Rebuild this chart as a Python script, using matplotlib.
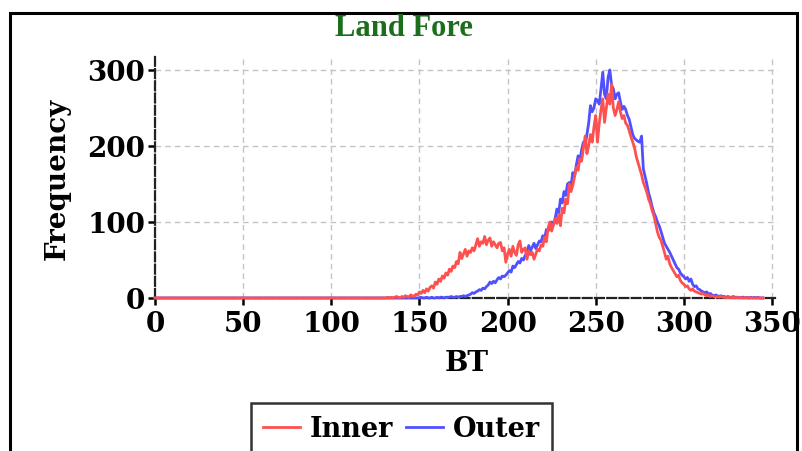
import matplotlib
matplotlib.use("Agg")
import matplotlib.pyplot as plt
from matplotlib.patches import Rectangle

# ---- data ----
bt_start = 130
inner_vals = [
    0, 0, 1, 0, 1, 0, 1, 2, 1, 0,
    2, 1, 3, 2, 1, 4, 3, 2, 5, 4,
    8, 6, 10, 7, 12, 9, 14, 16, 13, 21,
    18, 25, 22, 29, 26, 33, 30, 38, 35, 42,
    40, 48, 45, 60, 52, 58, 64, 55, 62, 60,
    66, 62, 70, 78, 68, 74, 72, 81, 70, 76,
    79, 68, 74, 70, 66, 72, 73, 62, 66, 47,
    58, 64, 55, 68, 60, 56, 70, 75, 60, 64,
    66, 51, 62, 57, 60, 51, 58, 64, 62, 70,
    68, 80, 74, 92, 100, 88, 96, 104, 98, 110,
    95, 118, 112, 130, 124, 150, 140, 148, 160, 172,
    168, 183, 180, 196, 213, 190, 200, 215, 205, 225,
    240, 205, 230, 248, 262, 231, 250, 268, 255, 281,
    250, 240, 248, 258, 245, 236, 240, 230, 227, 220,
    212, 205, 198, 186, 178, 170, 162, 152, 146, 139,
    130, 124, 115, 108, 98, 87, 80, 76, 68, 60,
    51, 55, 45, 40, 36, 32, 28, 30, 23, 20,
    18, 15, 16, 12, 10, 12, 9, 8, 7, 6,
    5, 6, 4, 3, 4, 2, 3, 2, 1, 2,
    1, 2, 1, 1, 0, 1, 1, 0, 1, 0,
    1, 0, 1, 0, 0, 1, 0, 0, 0, 0,
    0, 0, 0, 0, 0, 0,
]
outer_vals = [
    0, 0, 0, 0, 0, 0, 0, 0, 0, 0,
    0, 0, 0, 0, 0, 0, 0, 0, 0, 0,
    0, 1, 0, 0, 1, 0, 0, 1, 0, 0,
    1, 0, 1, 1, 0, 1, 1, 1, 2, 1,
    1, 2, 1, 2, 2, 3, 2, 3, 4, 5,
    7, 6, 8, 9, 11, 10, 13, 12, 15, 17,
    21, 19, 22, 20, 24, 27, 25, 29, 28, 30,
    33, 36, 34, 42, 40, 44, 48, 46, 52, 50,
    56, 60, 69, 62, 67, 72, 65, 70, 75, 74,
    82, 78, 90, 88, 95, 100, 96, 105, 117, 112,
    130, 125, 140, 135, 150, 152, 148, 165, 160, 175,
    187, 180, 195, 205, 200, 215, 230, 253, 245, 250,
    262, 260, 255, 275, 297, 268, 262, 290, 300, 280,
    275, 262, 268, 270, 258, 248, 252, 248, 240, 235,
    225, 215, 210, 208, 206, 205, 213, 170, 160, 150,
    138, 130, 120, 112, 107, 100, 95, 88, 80, 72,
    68, 64, 60, 55, 50, 45, 40, 38, 33, 30,
    28, 25, 27, 22, 25, 18, 15, 16, 12, 11,
    9, 8, 7, 8, 5, 6, 4, 3, 4, 3,
    2, 3, 2, 2, 1, 2, 1, 1, 2, 1,
    1, 1, 0, 1, 1, 0, 1, 0, 1, 0,
    1, 0, 1, 0, 0, 0,
]
bt = [0] + list(range(bt_start, bt_start + len(inner_vals)))
inner = [0] + inner_vals
outer = [0] + outer_vals

x_ticks = [0, 50, 100, 150, 200, 250, 300, 350]
y_ticks = [0, 100, 200, 300]
series_names = ["Inner", "Outer"]
title = "Land Fore"

# ---- figure ----
fig = plt.figure(figsize=(8.03, 4.52), dpi=100)
ax = fig.add_axes([155 / 803, 1 - 299 / 452, (778 - 155) / 803, (299 - 58) / 452])

serif = "DejaVu Serif"

l_out, = ax.plot(bt, outer, color="#5050ff", lw=2.0, zorder=3, clip_on=False)
l_in, = ax.plot(bt, inner, color="#ff5050", lw=2.0, zorder=4, clip_on=False)

ax.set_xlim(0, 353.4)
ax.set_ylim(0, 317)
ax.set_xticks(x_ticks)
ax.set_yticks(y_ticks)
ax.tick_params(axis="both", direction="out", length=5, width=1.8, color="black",
               labelsize=20)
ax.tick_params(axis="x", pad=4)
ax.tick_params(axis="y", pad=2)
for lab in ax.get_xticklabels() + ax.get_yticklabels():
    lab.set_fontfamily(serif)
    lab.set_fontweight("heavy")

ax.grid(True, color="#c4c4c4", linestyle=(0, (4, 3)), linewidth=1.0, zorder=0)
ax.set_axisbelow(True)

for side in ["top", "right"]:
    ax.spines[side].set_visible(False)
for side in ["left", "bottom"]:
    ax.spines[side].set_linestyle((0, (4, 1.5)))
    ax.spines[side].set_linewidth(1.6)
    ax.spines[side].set_color("#222222")

ax.set_xlabel("BT", fontfamily=serif, fontweight="bold", fontsize=20, labelpad=8)
ax.set_ylabel("Frequency", fontfamily=serif, fontweight="bold", fontsize=20, labelpad=12)

fig.text(404 / 803, 1 - 29 / 452, title, ha="center", va="center",
         fontfamily="Liberation Serif", fontweight="bold", fontsize=22, color="#1b6e1b")

leg = fig.legend([l_in, l_out], series_names, loc="upper center",
                 bbox_to_anchor=(0.5, 1 - 404 / 452), borderaxespad=0, ncol=2,
                 frameon=True, fancybox=False, edgecolor="black", handlelength=1.35,
                 handletextpad=0.35, columnspacing=0.5, borderpad=0.45,
                 prop={"family": serif, "weight": "bold", "size": 19.5})
leg.get_frame().set_linewidth(1.8)
for h in leg.get_lines():
    h.set_linewidth(2.0)

# outer border
fig.patches.append(Rectangle((10 / 803, -0.2), (797 - 10) / 803, 1 - 14 / 452 + 0.2,
                             transform=fig.transFigure, fill=False,
                             edgecolor="black", linewidth=2.2, zorder=0))

fig.savefig("out.png", dpi=100)
